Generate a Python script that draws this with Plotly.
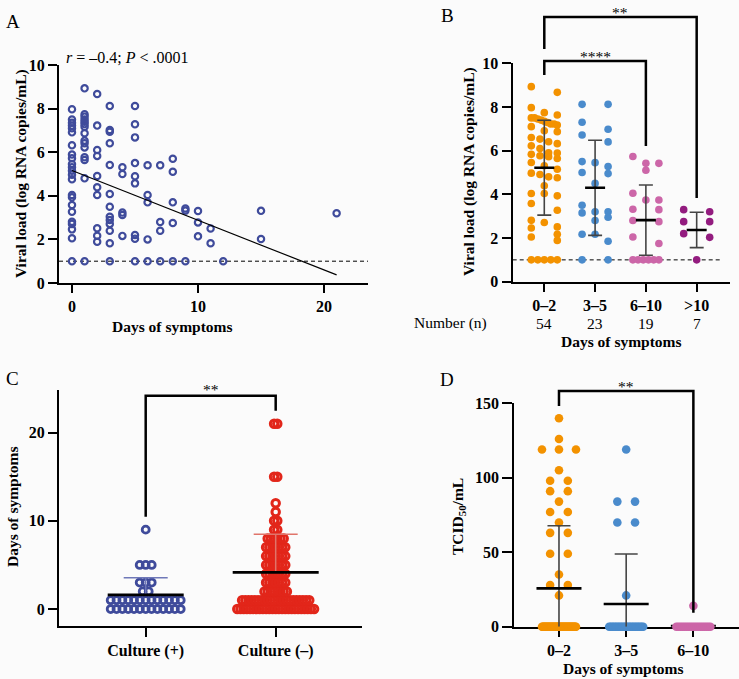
import numpy as np
import plotly.graph_objects as go

W, H = 739, 679
FONT = "Liberation Serif"
BG = "#fbfbfb"

# ---------------- DATA ----------------
# Panel A: viral load (log RNA copies/mL) by days of symptoms
a_day_values = [0, 1, 2, 3, 4, 5, 6, 7, 8, 9, 10, 11, 12, 15, 21]
a_loads_by_day = [
    [7.97, 7.50, 7.35, 7.22, 7.10, 6.91, 6.32, 5.89, 5.72, 5.46, 5.31, 5.15,
     4.97, 4.76, 4.04, 3.93, 3.58, 3.27, 2.81, 2.71, 2.46, 2.05, 1.00],
    [8.93, 7.74, 7.63, 7.50, 7.40, 7.29, 7.17, 6.87, 6.53, 6.41, 6.22, 5.77,
     5.64, 4.80, 1.00],
    [8.67, 7.22, 6.10, 5.83, 4.91, 4.39, 4.04, 2.51, 2.17, 1.89],
    [8.12, 7.02, 6.94, 6.41, 5.41, 4.08, 3.50, 3.04, 2.89, 2.71, 2.40, 1.82, 1.00],
    [5.31, 5.00, 3.23, 3.12, 2.16],
    [8.12, 7.28, 6.68, 5.50, 4.90, 4.57, 2.20, 2.03, 1.00],
    [5.40, 4.04, 3.70, 2.00, 1.00],
    [5.40, 2.80, 2.40, 1.00],
    [5.70, 5.10, 3.70, 2.75, 1.00],
    [3.42, 3.32, 1.00],
    [3.30, 2.78, 2.14],
    [2.50, 1.82],
    [1.00],
    [3.31, 2.02],
    [3.20],
]
a_fit_intercept = 5.16
a_fit_slope = -0.228
a_fit_days = [0, 21]
a_limit = 1.0
a_xticks = [0, 10, 20]
a_yticks = [0, 2, 4, 6, 8, 10]

# Panel B: viral load by symptom-day group
b_cats = ["0–2", "3–5", "6–10", ">10"]
b_counts = ["54", "23", "19", "7"]
b_vals = [
    [7.97, 7.50, 7.35, 7.22, 7.10, 6.91, 6.32, 5.89, 5.72, 5.46, 5.31, 5.15,
     4.97, 4.76, 4.04, 3.93, 3.58, 3.27, 2.81, 2.71, 2.46, 2.05, 1.00,
     8.93, 7.74, 7.63, 7.50, 7.40, 7.29, 7.17, 6.87, 6.53, 6.41, 6.22, 5.77,
     5.64, 4.80, 1.00,
     8.67, 7.22, 6.10, 5.83, 4.91, 4.39, 4.04, 2.51, 2.17, 1.89,
     7.45, 6.60, 5.90, 1.00, 1.00, 1.00],
    [8.12, 8.12, 7.30, 6.98, 6.72, 6.40, 5.50, 5.45, 5.27, 5.00, 4.95, 4.50,
     3.50, 3.20, 3.20, 3.15, 2.95, 2.80, 2.17, 2.17, 1.85, 1.00, 1.00],
    [5.73, 5.42, 5.42, 5.10, 4.05, 3.74, 3.74, 3.32, 3.30, 2.80, 2.75, 2.05,
     1.75, 1.00, 1.00, 1.00, 1.00, 1.00, 1.00],
    [3.30, 3.20, 2.75, 2.75, 2.20, 2.03, 1.00],
]
b_mean = [5.22, 4.30, 2.82, 2.37]
b_sd = [2.17, 2.18, 1.61, 0.81]
b_yticks = [0, 2, 4, 6, 8, 10]
b_colors = ["#f39200", "#4a8bcc", "#cc66a8", "#931c7f"]

# Panel C: days of symptoms by culture result
c_cats = ["Culture (+)", "Culture (–)"]
c_days = [[0, 1, 2, 3, 5, 9],
          [0, 1, 2, 3, 4, 5, 6, 7, 8, 9, 10, 11, 12, 15, 21]]
c_counts = [[13, 13, 2, 3, 3, 1],
            [25, 22, 8, 7, 7, 7, 7, 7, 6, 2, 2, 1, 1, 2, 2]]
c_mean = [1.6, 4.15]
c_sd = [1.95, 4.34]
c_yticks = [0, 10, 20]
c_colors = ["#3f4b9b", "#e2261a"]
c_cap_colors = ["#6f78b8", "#e0746a"]

# Panel D: TCID50/mL by symptom-day group
d_cats = ["0–2", "3–5", "6–10"]
d_nonzero = [
    [140, 126, 119, 119, 119, 105, 98, 98, 91, 91, 84, 77, 77, 70, 63, 63,
     49, 49, 35, 28, 28, 21],
    [119, 84, 84, 70, 70, 21],
    [14],
]
d_zero_counts = [45, 23, 18]
d_mean = [25.7, 15.2, 0.5]
d_sd = [42.1, 33.6, 1.4]
d_yticks = [0, 50, 100, 150]
d_colors = ["#f39200", "#4a8bcc", "#cc66a8"]

# ---------------- GEOMETRY (pixels) ----------------
G = {
    "A": dict(x0=59, x1=368, top=65, bot=283, xr=[-1.03, 23.49], yr=[0, 10]),
    "B": dict(x0=512.7, x1=730, top=63.3, bot=281.7, xr=[-0.622, 3.656], yr=[0, 10]),
    "C": dict(x0=59, x1=362, top=390, bot=625.7, xr=[-0.667, 1.664], yr=[-1.89, 24.83]),
    "D": dict(x0=514.3, x1=739, top=403.3, bot=626.7, xr=[-0.665, 2.679], yr=[0, 150]),
}


def ppx(g):
    g = G[g]
    return (g["x1"] - g["x0"]) / (g["xr"][1] - g["xr"][0])


def ppy(g):
    g = G[g]
    return (g["bot"] - g["top"]) / (g["yr"][1] - g["yr"][0])


def to_px(g, x, y):
    gg = G[g]
    return (gg["x0"] + (x - gg["xr"][0]) * ppx(g),
            gg["bot"] - (y - gg["yr"][0]) * ppy(g))


def P(px, py):
    return px / W, 1 - py / H


def swarm_rows(vals, bin_h, half_w):
    vals = np.asarray(vals, float)
    order = np.argsort(-vals, kind="stable")
    offs = np.zeros(len(vals))
    rows, cur, start = [], [], None
    for idx in order:
        v = vals[idx]
        if start is None or start - v < bin_h:
            if start is None:
                start = v
            cur.append(idx)
        else:
            rows.append(cur)
            cur, start = [idx], v
    rows.append(cur)
    for r in rows:
        k = len(r)
        if k > 1:
            o = np.linspace(-half_w, half_w, k)
            for j, idx in enumerate(r):
                offs[idx] = o[j]
    return offs


def row_offsets(vals, s_max, half_w):
    vals = np.asarray(vals, float)
    offs = np.zeros(len(vals))
    for v in np.unique(vals):
        idx = np.where(vals == v)[0]
        k = len(idx)
        if k > 1:
            s = min(s_max, 2 * half_w / (k - 1))
            o = (np.arange(k) - (k - 1) / 2) * s
            offs[idx] = o
    return offs


fig = go.Figure()


def line(xs, ys, ax, color="black", width=2.5, dash=None):
    fig.add_trace(go.Scatter(x=xs, y=ys, mode="lines", xaxis="x" + ax, yaxis="y" + ax,
                             line=dict(color=color, width=width, dash=dash),
                             hoverinfo="skip", showlegend=False, cliponaxis=False))


# ---- Panel A
ax_x = []
ax_y = []
for d, loads in zip(a_day_values, a_loads_by_day):
    ax_x += [d] * len(loads)
    ax_y += loads
line(G["A"]["xr"], [a_limit, a_limit], "", width=1, dash="4px,3px")
fig.add_trace(go.Scatter(x=ax_x, y=ax_y, mode="markers", xaxis="x", yaxis="y",
                         marker=dict(symbol="circle-open", size=6.3, color="#3f4b9b",
                                     line=dict(width=2.2, color="#3f4b9b")),
                         showlegend=False, cliponaxis=False))
fx = np.array(a_fit_days, float)
line(fx, a_fit_intercept + a_fit_slope * fx, "", width=1.2)

# ---- Panel B
bx = ppx("B")
by = ppy("B")
line([G["B"]["xr"][0], 3.49], [a_limit, a_limit], "2", width=1, dash="4px,3px")
for i, vals in enumerate(b_vals):
    offs = swarm_rows(vals, 7.6 / by, 13 / bx)
    fig.add_trace(go.Scatter(x=i + offs, y=vals, mode="markers", xaxis="x2", yaxis="y2",
                             marker=dict(size=7.6, color=b_colors[i], line=dict(width=0)),
                             showlegend=False, cliponaxis=False))
for i in range(len(b_vals)):
    m, s = b_mean[i], b_sd[i]
    cw, mw = 7 / bx, 10 / bx
    line([i, i], [m - s, m + s], "2", color="#444444", width=1.6)
    line([i - cw, i + cw], [m + s, m + s], "2", color="#444444", width=1.6)
    line([i - cw, i + cw], [m - s, m - s], "2", color="#444444", width=1.6)
    line([i - mw, i + mw], [m, m], "2", color="black", width=2.6)

# ---- Panel C
cx = ppx("C")
c_size = [7, 7.5]
c_lw = [2.8, 3.0]
c_smax = [6.0, 3.2]
c_half = [35, 43]
for i in range(2):
    vals = []
    for d, n in zip(c_days[i], c_counts[i]):
        vals += [d] * n
    offs = row_offsets(vals, c_smax[i] / cx, c_half[i] / cx)
    fig.add_trace(go.Scatter(x=i + offs, y=vals, mode="markers", xaxis="x3", yaxis="y3",
                             marker=dict(symbol="circle-open", size=c_size[i], color=c_colors[i],
                                         line=dict(width=c_lw[i], color=c_colors[i])),
                             showlegend=False, cliponaxis=False))
for i in range(2):
    m, s = c_mean[i], c_sd[i]
    cw = 22 / cx
    mw = [38, 43][i] / cx
    line([i, i], [m, m + s], "3", color=c_cap_colors[i], width=1.5)
    line([i - cw, i + cw], [m + s, m + s], "3", color=c_cap_colors[i], width=1.5)
    line([i - mw, i + mw], [m, m], "3", color="black", width=2.6)

# ---- Panel D
dx = ppx("D")
for i in range(3):
    vals = list(d_nonzero[i]) + [0.0] * d_zero_counts[i]
    m, s = d_mean[i], d_sd[i]
    cw, mw = 11.5 / dx, 22.5 / dx
    on_top = m > 5

    def stats():
        line([i, i], [max(0, m - s), m + s], "4", color="#444444", width=1.6)
        line([i - cw, i + cw], [m + s, m + s], "4", color="#444444", width=1.6)
        line([i - mw, i + mw], [m, m], "4", color="black", width=2.6)

    if not on_top:
        stats()
    offs = row_offsets(vals, 17.7 / dx, 17 / dx)
    fig.add_trace(go.Scatter(x=i + offs, y=vals, mode="markers", xaxis="x4", yaxis="y4",
                             marker=dict(size=8.6, color=d_colors[i], line=dict(width=0)),
                             showlegend=False, cliponaxis=False))
    if on_top:
        stats()

# ---------------- AXES ----------------
tickfont = dict(family=FONT, size=16, color="black", weight="bold")


def axis(g, which, **kw):
    gg = G[g]
    d = dict(showline=True, linecolor="black", linewidth=2.3, ticks="outside",
             ticklen=8, tickwidth=2.3, tickcolor="black", showgrid=False,
             zeroline=False, tickfont=tickfont, fixedrange=True, automargin=False)
    if which == "x":
        d.update(domain=[gg["x0"] / W, gg["x1"] / W], range=gg["xr"])
    else:
        d.update(domain=[1 - gg["bot"] / H, 1 - gg["top"] / H], range=gg["yr"])
    d.update(kw)
    return d


fig.update_layout(
    xaxis=axis("A", "x", anchor="y", tickvals=a_xticks),
    yaxis=axis("A", "y", anchor="x", tickvals=a_yticks, ticklen=9),
    xaxis2=axis("B", "x", anchor="y2", tickvals=list(range(4)), ticktext=b_cats),
    yaxis2=axis("B", "y", anchor="x2", tickvals=b_yticks, ticklen=9),
    xaxis3=axis("C", "x", anchor="y3", tickvals=[0, 1], ticktext=c_cats, ticklen=9),
    yaxis3=axis("C", "y", anchor="x3", tickvals=c_yticks, ticklen=9),
    xaxis4=axis("D", "x", anchor="y4", tickvals=[0, 1, 2], ticktext=d_cats,
                layer="below traces"),
    yaxis4=axis("D", "y", anchor="x4", tickvals=d_yticks, ticklen=10),
)

# ---------------- TEXT ----------------
ann = []


def text(px, py, t, size=15.5, bold=False, xanchor="center", angle=0):
    x, y = P(px, py)
    ann.append(dict(x=x, y=y, xref="paper", yref="paper", text=t, showarrow=False,
                    xanchor=xanchor, yanchor="middle", textangle=angle,
                    font=dict(family=FONT, size=size, color="black",
                              weight="bold" if bold else "normal")))


text(4, 21, "A", size=19, xanchor="left")
text(447, 15, "B", size=19)
text(4, 378, "C", size=19, xanchor="left")
text(447, 379, "D", size=19)

text(64, 57, "<i>r</i> = –0.4; <i>P</i> < .0001", size=16, xanchor="left")
text(21, 174, "Viral load (log RNA copies/mL)", bold=True, angle=-90)
text(172, 326, "Days of symptoms", bold=True)

text(469, 172, "Viral load (log RNA copies/mL)", bold=True, angle=-90)
text(489, 323, "Number (n)", size=15.5, xanchor="right")
for i, n in enumerate(b_counts):
    text(to_px("B", i, 0)[0], 323, n, size=15.5)
text(621, 341, "Days of symptoms", bold=True)

text(12, 507, "Days of symptoms", bold=True, angle=-90)
text(458, 517, "TCID<sub>50</sub>/mL", bold=True, angle=-90)
text(623, 668, "Days of symptoms", bold=True)

# brackets
shapes = []


def bracket(g, i0, i1, ytop, yl, yr, label, ty):
    xa = to_px(g, i0, 0)[0]
    xb = to_px(g, i1, 0)[0]
    pts = [P(xa, yl), P(xa, ytop), P(xb, ytop), P(xb, yr)]
    path = "M " + " L ".join(f"{x:.5f},{y:.5f}" for x, y in pts)
    shapes.append(dict(type="path", path=path, xref="paper", yref="paper",
                       line=dict(color="black", width=2.5)))
    text((xa + xb) / 2, ty, label, size=15.5)


bracket("B", 0, 2, 61, 75, 146, "****", 56)
bracket("B", 0, 3, 17, 49, 198, "**", 12)
bracket("C", 0, 1, 395.7, 516.7, 410.7, "**", 389)
bracket("D", 0, 2, 391, 406, 612.7, "**", 386)

fig.update_layout(width=W, height=H, margin=dict(l=0, r=0, t=0, b=0),
                  paper_bgcolor=BG, plot_bgcolor=BG, showlegend=False,
                  annotations=ann, shapes=shapes)

fig.write_html("out.html", config={"displayModeBar": False},
               post_script="document.body.style.margin='0';document.body.style.overflow='hidden';")
